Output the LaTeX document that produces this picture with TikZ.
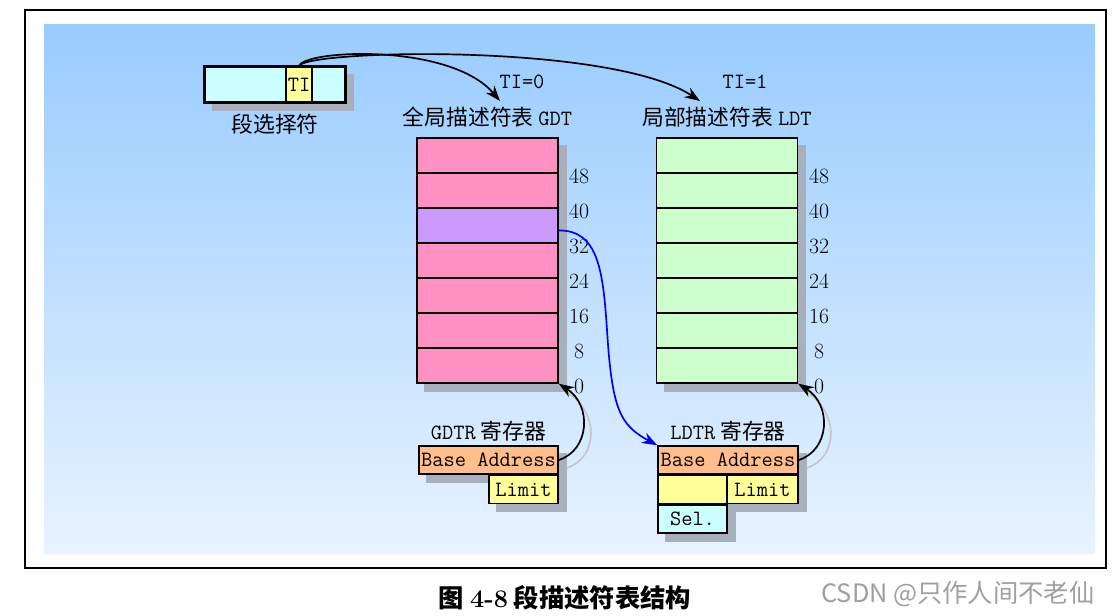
\documentclass[tikz,border=0pt]{standalone}
\usepackage{fontspec}
\newfontfamily\cjk{Noto Sans CJK SC}
\usetikzlibrary{arrows.meta,positioning,calc}
\definecolor{gdtPink}{RGB}{255,145,195}
\definecolor{gdtPurple}{RGB}{204,153,255}
\definecolor{ldtGreen}{RGB}{204,255,204}
\definecolor{selCyan}{RGB}{204,255,255}
\definecolor{regOrange}{RGB}{255,190,140}
\definecolor{regYellow}{RGB}{255,255,153}
\definecolor{bgTop}{RGB}{153,204,255}
\definecolor{bgBottom}{RGB}{232,243,255}
\definecolor{shadowGray}{RGB}{168,176,190}
\newcommand{\lblfont}{\fontsize{15.5}{18}\selectfont}
\pgfdeclarelayer{backlayer}
\pgfdeclarelayer{shadowlayer}
\pgfsetlayers{backlayer,shadowlayer,main}

\begin{document}
\begin{tikzpicture}[x=0.025cm, y=-0.025cm,
    cell/.style={rectangle, draw=black, line width=1pt, inner sep=0pt,
                 minimum height=0.875cm, font=\lblfont\ttfamily},
    tabrow/.style={cell, minimum width=3.525cm},
    regcell/.style={cell, minimum height=0.7cm},
    boxshade/.style={fill=shadowGray},
    numlbl/.style={font=\lblfont},
    cnlbl/.style={font=\lblfont\cjk, inner sep=1pt},
    arr/.style={-{Stealth[length=11pt,width=8pt]}, line width=1.2pt},
    arrshade/.style={line width=1.2pt, gray!45}
  ]
  \useasboundingbox (0,0) rectangle (1117,616);
  % frame and blue panel
  \begin{pgfonlayer}{backlayer}
    \draw[line width=1.5pt] (25,10) rectangle (1106,568);
    \shade[top color=bgTop, bottom color=bgBottom] (44,25) rectangle (1095,553);
  \end{pgfonlayer}

  % segment selector
  \node[cell, fill=selCyan, minimum width=3.5cm] (sel) at (275,84.5) {};
  \node[cell, fill=regYellow, minimum width=0.65cm] (ti) at (299,84.5) {TI};
  \draw[line width=1.5pt] (sel.north west) rectangle (sel.south east);
  \node[cnlbl, below=0.25cm of sel] (selname) {段选择符};

  % GDT and LDT
  \foreach \i/\c in {0/gdtPink,1/gdtPink,2/gdtPurple,3/gdtPink,4/gdtPink,5/gdtPink,6/gdtPink}
    \node[tabrow, fill=\c] (g\i) at (487.5,155.5+35*\i) {};
  \foreach \i in {0,...,6}
    \node[tabrow, fill=ldtGreen] (l\i) at (727,155.5+35*\i) {};
  \foreach \v [count=\k] in {48,40,32,24,16,8,0} {
    \node[numlbl] (gn\v) at (579,141+35*\k) {\v};
    \node[numlbl] (ln\v) at (819,141+35*\k) {\v};
  }
  \node[cnlbl, above=0.2cm of g0] (gdtname) {全局描述符表 {\ttfamily GDT}};
  \node[cnlbl, above=0.2cm of l0] (ldtname) {局部描述符表 {\ttfamily LDT}};
  \node[font=\lblfont\ttfamily] (ti0) at (522,82) {TI=0};
  \node[font=\lblfont\ttfamily] (ti1) at (745,82) {TI=1};
  \coordinate (gtip) at (500,101);
  \coordinate (ltip) at (700,101);

  % GDTR
  \node[regcell, fill=regOrange, minimum width=3.475cm] (gbase) at (488.5,460) {Base Address};
  \node[regcell, fill=regYellow, minimum width=1.725cm, anchor=north east] (glimit) at (gbase.south east) {Limit};
  \node[cnlbl, above=0.05cm of gbase] (gdtrname) {{\ttfamily GDTR} 寄存器};

  % LDTR
  \node[regcell, fill=regOrange, minimum width=3.5cm] (lbase) at (728,460) {Base Address};
  \node[regcell, fill=regYellow, minimum width=1.775cm, anchor=north east] (llimit) at (lbase.south east) {Limit};
  \node[regcell, fill=regYellow, minimum width=1.725cm, anchor=north west] (lgap) at (lbase.south west) {};
  \node[regcell, fill=selCyan, minimum width=1.725cm, anchor=north west] (lsel) at (lgap.south west) {Sel.};
  \node[cnlbl, above=0.05cm of lbase] (ldtrname) {{\ttfamily LDTR} 寄存器};

  % drop shadows
  \begin{pgfonlayer}{shadowlayer}
    \fill[boxshade] ($(sel.north west)+(8,8)$) rectangle ($(sel.south east)+(8,8)$);
    \fill[boxshade] ($(g0.north west)+(8,8)$) rectangle ($(g6.south east)+(8,8)$);
    \fill[boxshade] ($(l0.north west)+(8,8)$) rectangle ($(l6.south east)+(8,8)$);
    \fill[boxshade] ($(gbase.north west)+(8,8)$) rectangle ($(gbase.south east)+(8,8)$);
    \fill[boxshade] ($(glimit.north west)+(8,8)$) rectangle ($(glimit.south east)+(8,8)$);
    \fill[boxshade] ($(lbase.north west)+(8,8)$) rectangle ($(llimit.south east)+(8,8)$);
    \fill[boxshade] ($(lsel.north west)+(8,8)$) rectangle ($(lsel.south east)+(8,8)$);
  \end{pgfonlayer}

  % connectors
  \draw[arr] (ti.north) .. controls (302,50) and (450,42) .. (gtip);
  \draw[arr] (ti.north) .. controls (302,50) and (610,42) .. (ltip);
  \draw[arr, blue] ($(g2.east)+(0,5)$) .. controls (598,230) and (603,270) .. (607,330)
    .. controls (612,410) and (620,425) .. (lbase.north west);
  \draw[arrshade, transform canvas={shift={(0.2cm,-0.2cm)}}] (gbase.east) .. controls (590,450) and (592,405) .. (g6.south east);
  \draw[arrshade, transform canvas={shift={(0.2cm,-0.2cm)}}] (lbase.east) .. controls (830,450) and (832,405) .. (l6.south east);
  \draw[arr] (gbase.east) .. controls (590,450) and (592,405) .. (g6.south east);
  \draw[arr] (lbase.east) .. controls (830,450) and (832,405) .. (l6.south east);

  % caption and mark
  \node[font=\fontsize{18}{22}\selectfont\cjk\bfseries] (caption) at (565,598) {图 {\rmfamily 4-8} 段描述符表结构};
  \node[font=\fontsize{18}{22}\selectfont\cjk, text=gray!75] (mark) at (958,594) {CSDN @只作人间不老仙};
\end{tikzpicture}
\end{document}
